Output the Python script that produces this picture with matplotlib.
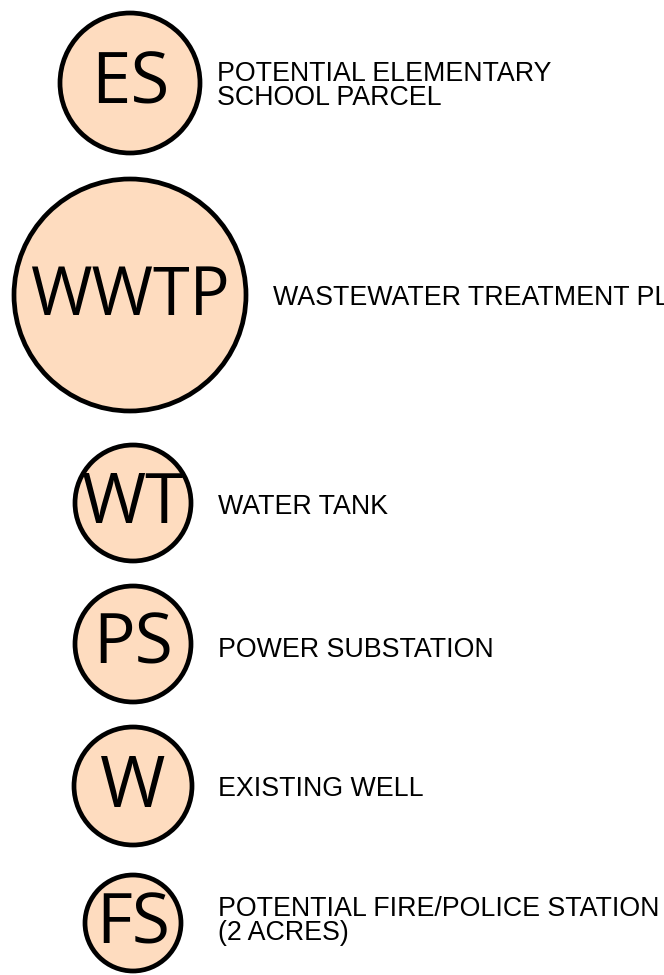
import matplotlib
matplotlib.use('Agg')
import matplotlib.pyplot as plt
from matplotlib.patches import Circle

# legend entries
codes = ['ES', 'WWTP', 'WT', 'PS', 'W', 'FS']
labels = ['POTENTIAL ELEMENTARY\nSCHOOL PARCEL',
          'WASTEWATER TREATMENT PLANT',
          'WATER TANK',
          'POWER SUBSTATION',
          'EXISTING WELL',
          'POTENTIAL FIRE/POLICE STATION\n(2 ACRES)']

# layout in pixels (x, y from top), circle radius, label position
cx = [130, 130, 133, 133, 133, 133]
cy = [83, 295, 503, 644, 786, 923]
radius = [70, 116, 58, 58, 59, 48]
code_size = [51, 48, 50, 50, 51, 50]
label_x = [217, 273, 218, 218, 218, 218]
label_y = [86, 298, 507, 650, 789, 921]

fill = '#fedcbf'

fig = plt.figure(figsize=(6.64, 9.75), dpi=100)
ax = fig.add_axes([0, 0, 1, 1])
ax.set_xlim(0, 664)
ax.set_ylim(975, 0)
ax.set_aspect('equal')
ax.axis('off')

for i in range(len(codes)):
    ax.add_patch(Circle((cx[i], cy[i]), radius[i], facecolor=fill,
                        edgecolor='black', linewidth=3.4))
    ax.text(cx[i], cy[i] + 2, codes[i], ha='center', va='center',
            fontsize=code_size[i], family='Open Sans', color='black')
    # the plant label runs past the right edge, as in the source sheet
    ax.text(label_x[i], label_y[i], labels[i], ha='left', va='center',
            fontsize=19.3, family='Liberation Sans', color='black',
            linespacing=0.9, clip_on=True)

fig.savefig('out.png', dpi=100)
